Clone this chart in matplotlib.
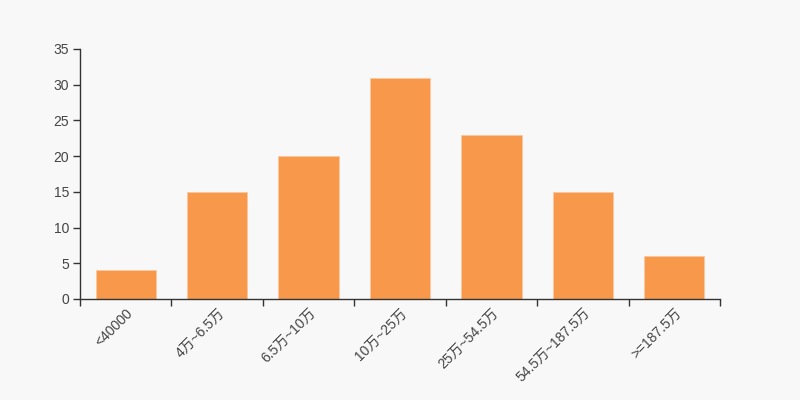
import matplotlib
matplotlib.use('Agg')
import matplotlib.pyplot as plt
import numpy as np

categories = ['<40000', '4万~6.5万', '6.5万~10万', '10万~25万', '25万~54.5万', '54.5万~187.5万', '>=187.5万']
counts = [4, 15, 20, 31, 23, 15, 6]

plt.rcParams['font.family'] = ['Liberation Sans', 'Noto Sans CJK SC', 'DejaVu Sans']

fig = plt.figure(figsize=(8, 4), dpi=100, facecolor='#f8f8f8')
ax = fig.add_axes([80 / 800, 1 - 299 / 400, 640 / 800, 250 / 400])
ax.set_facecolor('#f8f8f8')

x = np.arange(len(categories))
ax.bar(x, counts, width=0.66, color='#f7984a', edgecolor='#fbc89e', linewidth=0.6)

ax.set_xlim(-0.5, len(categories) - 0.5)
ax.set_ylim(0, 35)
ax.set_yticks(range(0, 36, 5))

ax.set_xticks(x)
ax.set_xticklabels(categories, rotation=45, ha='right', va='top', rotation_mode='anchor')
ax.set_xticks(np.arange(-0.5, len(categories)), minor=True)
ax.tick_params(axis='x', which='major', length=0, pad=5)
ax.tick_params(axis='x', which='minor', length=5, width=1, color='#333333')
ax.tick_params(axis='y', length=5, width=1, color='#333333', pad=3)
ax.tick_params(labelsize=10, labelcolor='#444444')

for s in ['top', 'right']:
    ax.spines[s].set_visible(False)
for s in ['left', 'bottom']:
    ax.spines[s].set_color('#333333')
    ax.spines[s].set_linewidth(1)

fig.savefig('out.png', dpi=100, facecolor=fig.get_facecolor())
